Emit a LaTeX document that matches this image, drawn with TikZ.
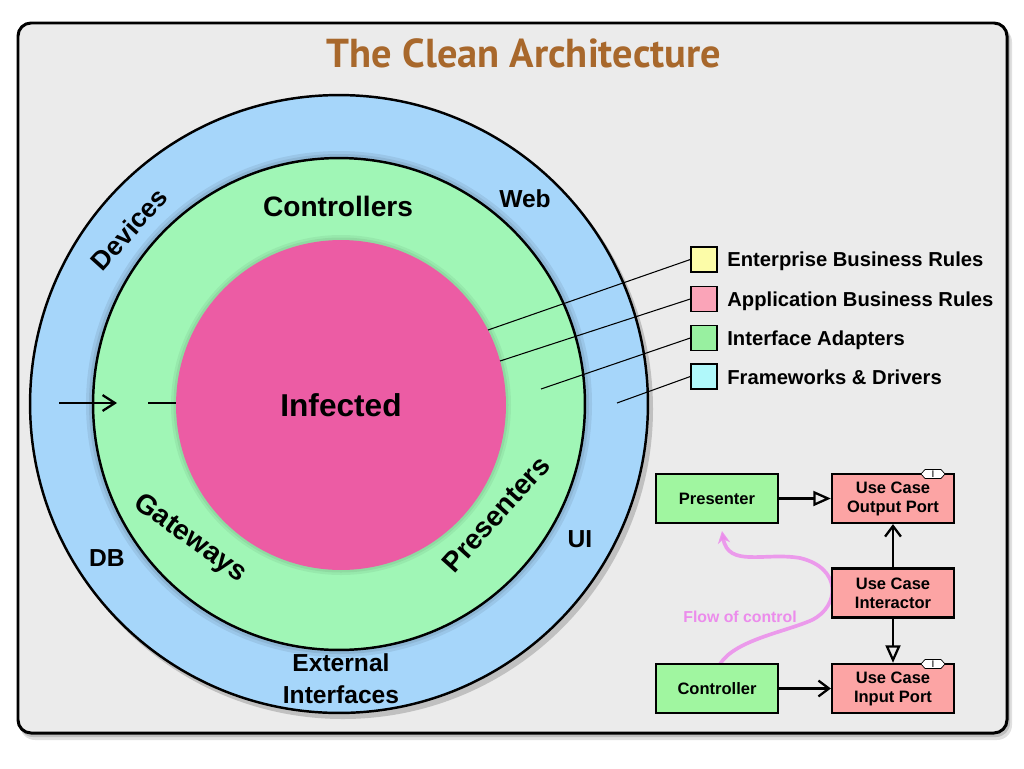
\documentclass[tikz,border=0pt]{standalone}
\usepackage{fontspec}
\setmainfont{Liberation Sans}
\newfontfamily\titlefont{PT Sans}
\usetikzlibrary{arrows.meta}
\definecolor{bandblue}{RGB}{166,214,250}
\definecolor{bandgreen}{RGB}{160,246,182}
\definecolor{corepink}{RGB}{236,92,164}
\definecolor{framegray}{RGB}{235,235,235}
\definecolor{titlebrown}{RGB}{168,104,44}
\definecolor{legyellow}{RGB}{252,252,168}
\definecolor{legpink}{RGB}{250,164,184}
\definecolor{leggreen}{RGB}{152,240,160}
\definecolor{legcyan}{RGB}{176,248,250}
\definecolor{boxgreen}{RGB}{160,246,160}
\definecolor{boxpink}{RGB}{252,164,164}
\definecolor{flowviolet}{RGB}{236,140,236}
\newcommand\ringfnt{\fontsize{16}{16}\selectfont\bfseries}
\newcommand\bandfnt{\fontsize{14}{14}\selectfont\bfseries}
\tikzset{
  ring/.style={circle, draw=black, line width=1.4pt, inner sep=0pt},
  ringlabel/.style={font=\ringfnt},
  bandlabel/.style={font=\bandfnt},
  legbox/.style={draw=black, line width=0.8pt, minimum width=0.52cm, minimum height=0.5cm, inner sep=0pt},
  legtext/.style={anchor=base west, font=\fontsize{11.5}{13}\selectfont\bfseries, inner sep=0pt},
  leader/.style={line width=0.6pt},
  umlbox/.style={draw=black, line width=1.3pt, minimum width=2.44cm, minimum height=0.98cm, inner sep=0pt, align=center, font=\fontsize{9.4}{10.8}\selectfont\bfseries},
  imarkshape/.style={fill=white, draw=black, line width=0.4pt},
  imark/.style={inner sep=0pt, text=black!70, font=\rmfamily\fontsize{5.5}{5.5}\selectfont\bfseries},
  implements/.style={line width=1.3pt, -{Triangle[open, length=10pt, width=8.5pt]}},
  uses/.style={line width=1.3pt, -{Straight Barb[length=6pt, width=9pt]}}
}
\begin{document}
\begin{tikzpicture}[x=0.02cm, y=0.02cm]
\useasboundingbox (0,0) rectangle (1024,-768);
\fill[white] (0,0) rectangle (1024,-768);
% frame with soft shadow
\fill[black, opacity=0.12, rounded corners=0.3cm] (20,-27) rectangle (1012,-740);
\fill[black, opacity=0.15, rounded corners=0.28cm] (19,-25) rectangle (1010,-737);
\draw[line width=1.7pt, fill=framegray, rounded corners=0.26cm] (18,-23) rectangle (1007,-733);
% title
\node[font=\titlefont\bfseries\fontsize{23}{26}\selectfont, text=titlebrown] (title) at (524,-53) {The Clean Architecture};
% circles
\coordinate (O) at (339,-404);
\fill[black, opacity=0.18] (343,-409) circle[radius=310];
\node[ring, fill=bandblue, minimum size=12.36cm] (outer) at (O) {};
\fill[black, opacity=0.07] (O) circle[radius=253];
\fill[black, opacity=0.08] (O) circle[radius=250];
\node[ring, fill=bandgreen, minimum size=9.84cm] (inner) at (O) {};
\fill[black, opacity=0.05] (341,-405) circle[radius=170];
\fill[black, opacity=0.06] (341,-405) circle[radius=167.5];
\node[circle, fill=corepink, minimum size=6.6cm, inner sep=0pt] (core) at (341,-405) {};
\node[font=\fontsize{18}{20}\selectfont\bfseries] (infected) at (341,-405) {Infected};
% ring labels
\node[ringlabel] (controllers) at (338,-206) {Controllers};
\node[ringlabel, rotate=-36] (gateways) at (190,-539) {Gateways};
\node[ringlabel, rotate=48] (presenters) at (496,-514) {Presenters};
% band labels
\node[bandlabel, font=\fontsize{15}{15}\selectfont\bfseries, rotate=48] (devices) at (129,-229) {Devices};
\node[bandlabel] (web) at (525,-199) {Web};
\node[bandlabel] (db) at (107,-558) {DB};
\node[bandlabel] (ui) at (580,-539) {UI};
\node[bandlabel, align=center, font=\fontsize{14}{18}\selectfont\bfseries] (ext) at (341,-679) {External\\Interfaces};
% crossing arrow
\coordinate (a1) at (59,-403);
\coordinate (a2) at (117,-403);
\coordinate (b1) at (148,-403);
\draw[line width=1.3pt, -{Straight Barb[length=7pt, width=9pt]}] (a1) -- (a2);
\draw[line width=1.3pt] (b1) -- (core.west |- b1);
% legend
\node[legbox, fill=legyellow] (ly) at (704,-259.5) {};
\node[legbox, fill=legpink] (lp) at (704,-299) {};
\node[legbox, fill=leggreen] (lg) at (704,-338) {};
\node[legbox, fill=legcyan] (lc) at (704,-376.5) {};
\node[legtext] (tly) at (727,-266.5) {Enterprise Business Rules};
\node[legtext] (tlp) at (727,-306) {Application Business Rules};
\node[legtext] (tlg) at (727,-345) {Interface Adapters};
\node[legtext] (tlc) at (727,-384) {Frameworks \& Drivers};
\coordinate (ey) at (488,-330);
\coordinate (ep) at (500,-361);
\coordinate (eg) at (541,-389);
\coordinate (ec) at (617,-403);
\draw[leader] (ly.west) -- (ey);
\draw[leader] (lp.west) -- (ep);
\draw[leader] (lg.west) -- (eg);
\draw[leader] (lc.west) -- (ec);
% flow of control
\coordinate (fs) at (720,-664);
\coordinate (ft) at (722,-531);
\draw[flowviolet, opacity=0.85, line width=2.1pt, line cap=round, -{Stealth[length=7pt, width=7pt]}]
  (fs) .. controls (735,-640) and (785,-632) .. (812,-620)
  .. controls (840,-606) and (842,-568) .. (800,-558)
  .. controls (765,-552) and (728,-568) .. (ft);
\node[text=flowviolet, font=\fontsize{9}{10}\selectfont\bfseries] (flow) at (740,-617) {Flow of control};
% UML boxes
\node[umlbox, fill=boxgreen] (presenter) at (717,-498.5) {Presenter};
\node[umlbox, fill=boxpink] (outport) at (893,-498.5) {Use Case\\Output Port};
\node[umlbox, fill=boxpink] (interactor) at (893,-593) {Use Case\\Interactor};
\node[umlbox, fill=boxgreen] (controller) at (717,-688.5) {Controller};
\node[umlbox, fill=boxpink] (inport) at (893,-688.5) {Use Case\\Input Port};
\filldraw[imarkshape] (933,-474) ++(-12,0) -- ++(4,4.5) -- ++(16,0) -- ++(4,-4.5) -- ++(-4,-4.5) -- ++(-16,0) -- cycle;
\filldraw[imarkshape] (933,-664) ++(-12,0) -- ++(4,4.5) -- ++(16,0) -- ++(4,-4.5) -- ++(-4,-4.5) -- ++(-16,0) -- cycle;
\node[imark] (im1) at (933,-474) {I};
\node[imark] (im2) at (933,-664) {I};
\draw[implements] (presenter) -- (outport);
\draw[uses] (interactor) -- (outport);
\draw[implements] (interactor) -- (inport);
\draw[uses] (controller) -- (inport);
\end{tikzpicture}
\end{document}
